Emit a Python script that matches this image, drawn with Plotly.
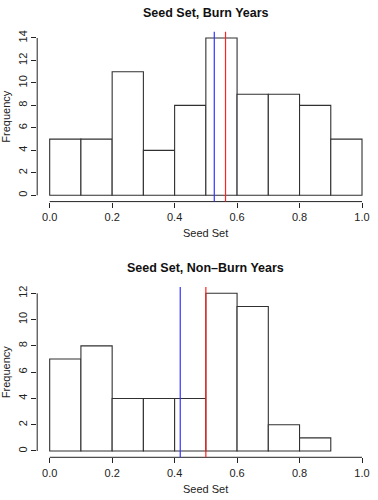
import plotly.graph_objects as go

bin_edges = [0.0, 0.1, 0.2, 0.3, 0.4, 0.5, 0.6, 0.7, 0.8, 0.9, 1.0]
burn_counts = [5, 5, 11, 4, 8, 14, 9, 9, 8, 5]
nonburn_counts = [7, 8, 4, 4, 4, 12, 11, 2, 1]
burn_lines = {"#3333ff": 0.527, "#ff2222": 0.563}
nonburn_lines = {"#3333ff": 0.418, "#ff2222": 0.50}
x_ticks = [0.0, 0.2, 0.4, 0.6, 0.8, 1.0]
x_tick_labels = ["0.0", "0.2", "0.4", "0.6", "0.8", "1.0"]
titles = ["Seed Set, Burn Years", "Seed Set, Non\u2013Burn Years"]

W, H = 378, 500
FONT = "Liberation Sans, Arial, sans-serif"
TXT = "#222222"

fig = go.Figure()

panels = [
    dict(counts=burn_counts, lines=burn_lines, title=titles[0],
         ytop=31.7, ybot=201.6, xa="x", ya="y", yticks=list(range(0, 15, 2))),
    dict(counts=nonburn_counts, lines=nonburn_lines, title=titles[1],
         ytop=287.0, ybot=457.3, xa="x2", ya="y2", yticks=list(range(0, 13, 2))),
]

xdom = [37.2 / W, 374.5 / W]
shapes = []
annotations = []
for i, p in enumerate(panels):
    counts = p["counts"]
    centers = [(bin_edges[j] + bin_edges[j + 1]) / 2 for j in range(len(counts))]
    widths = [bin_edges[j + 1] - bin_edges[j] for j in range(len(counts))]
    fig.add_trace(go.Bar(
        x=centers, y=counts, width=widths, xaxis=p["xa"], yaxis=p["ya"],
        marker=dict(color="white", line=dict(color="#303030", width=1.1)),
        showlegend=False, hoverinfo="skip",
    ))
    ymax = max(counts)
    yrange = [-0.04 * ymax, ymax * 1.04]
    xrange = [bin_edges[0] - 0.04 * (bin_edges[-1] - bin_edges[0]),
              bin_edges[-1] + 0.04 * (bin_edges[-1] - bin_edges[0])]
    suffix = "" if i == 0 else "2"
    ydom = [1 - p["ybot"] / H, 1 - p["ytop"] / H]
    fig.layout["xaxis" + suffix] = dict(
        domain=xdom, range=xrange, anchor=p["ya"], tickvals=x_ticks,
        ticktext=x_tick_labels, ticks="outside", ticklen=5, tickcolor=TXT,
        showgrid=False, zeroline=False, showline=False, automargin=False,
        tickfont=dict(family=FONT, size=11, color=TXT),
    )
    fig.layout["yaxis" + suffix] = dict(
        domain=ydom, range=yrange, anchor=p["xa"], tickvals=p["yticks"],
        ticks="outside", ticklen=5, tickcolor=TXT, tickangle=-90,
        showgrid=False, zeroline=False, showline=False, automargin=False,
        tickfont=dict(family=FONT, size=11, color=TXT),
    )
    shapes.append(dict(type="line", xref=p["xa"], yref=p["ya"] + " domain",
                       x0=x_ticks[0], x1=x_ticks[-1], y0=0, y1=0,
                       line=dict(color=TXT, width=1)))
    shapes.append(dict(type="line", xref=p["xa"] + " domain", yref=p["ya"],
                       x0=0, x1=0, y0=p["yticks"][0], y1=p["yticks"][-1],
                       line=dict(color=TXT, width=1)))
    for col, xv in p["lines"].items():
        shapes.append(dict(type="line", xref=p["xa"], yref=p["ya"] + " domain",
                           x0=xv, x1=xv, y0=0, y1=1, layer="above",
                           line=dict(color=col, width=1.2)))
    title_y = 13 if i == 0 else 268
    xlab_y = 233 if i == 0 else 489
    ylab_y = (p["ytop"] + p["ybot"]) / 2
    annotations.append(dict(text="<b>" + p["title"] + "</b>", xref="paper", yref="paper",
                            x=sum(xdom) / 2, y=1 - title_y / H, showarrow=False,
                            xanchor="center", yanchor="middle",
                            font=dict(family=FONT, size=12.5, color="#111")))
    annotations.append(dict(text="Seed Set", xref="paper", yref="paper",
                            x=sum(xdom) / 2, y=1 - xlab_y / H, showarrow=False,
                            xanchor="center", yanchor="middle",
                            font=dict(family=FONT, size=11, color=TXT)))
    annotations.append(dict(text="Frequency", xref="paper", yref="paper",
                            x=6 / W, y=1 - ylab_y / H, showarrow=False, textangle=-90,
                            xanchor="center", yanchor="middle",
                            font=dict(family=FONT, size=11, color=TXT)))

fig.update_layout(
    width=W, height=H, margin=dict(l=0, r=0, t=0, b=0),
    paper_bgcolor="white", plot_bgcolor="white", hovermode=False,
    shapes=shapes, annotations=annotations, bargap=0,
)
fig.write_html("out.html", config={"displayModeBar": False, "staticPlot": True},
               post_script="document.body.style.margin='0';document.body.style.overflow='hidden';")
